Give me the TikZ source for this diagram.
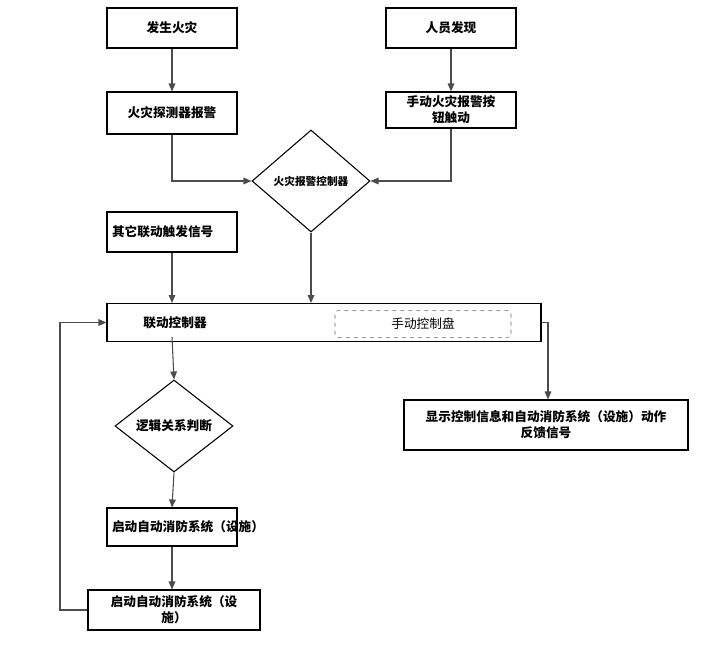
\documentclass[tikz,border=0pt]{standalone}
\usepackage{fontspec}
\setmainfont{Noto Sans CJK SC}
\usetikzlibrary{shapes.geometric,arrows.meta}
\begin{document}
\begin{tikzpicture}[x=0.75pt,y=-0.75pt,
  box/.style={draw,line width=0.8pt,minimum width=97.5pt,align=center,font=\fontsize{9.5}{12}\selectfont\bfseries,inner sep=1pt},
  dia/.style={draw,diamond,line width=0.8pt,aspect=1.2,font=\fontsize{8}{10}\selectfont\bfseries,inner sep=1pt},
  arr/.style={draw=black!70,line width=0.8pt,-{Triangle[length=6pt,width=5pt]}}]
\useasboundingbox (0,0) rectangle (711,651);
\node[box,minimum height=30pt] (a) at (172,28) {发生火灾};
\node[box,minimum height=30pt] (b) at (451,28) {人员发现};
\node[box,minimum height=31.5pt] (c) at (172,113) {火灾探测器报警};
\node[box,minimum height=27pt,text width=90pt] (d) at (451,110) {手动火灾报警按\\钮触动};
\node[dia,minimum width=88.5pt,minimum height=76.5pt] (e) at (311,181) {火灾报警控制器};
\node[box,minimum height=30pt,text width=90pt,align=left] (f) at (172,232) {其它联动触发信号};
\node[draw,line width=0.8pt,minimum width=325.5pt,minimum height=29pt] (g) at (324,322.5) {};
\node[font=\fontsize{9.5}{12}\selectfont\bfseries] (g1) at (175,323) {联动控制器};
\node[draw=black!60,dashed,rounded corners=2pt,minimum width=132pt,minimum height=20pt,font=\fontsize{9.5}{12}\selectfont] (h) at (423,324) {手动控制盘};
\node[dia,minimum width=88.5pt,minimum height=69pt,font=\fontsize{9.5}{12}\selectfont\bfseries] (i) at (174,426) {逻辑关系判断};
\node[box,minimum width=213pt,minimum height=37.5pt,text width=205pt] (j) at (546,425) {显示控制信息和自动消防系统（设施）动作\\反馈信号};
\node[box,minimum height=28.5pt,text width=90pt] (k) at (172,527) {启动自动消防系统（设施）};
\node[box,minimum width=129pt,minimum height=30pt,text width=123pt] (l) at (174,610) {启动自动消防系统（设\\施）};
\draw[arr] (a) -- (c);
\draw[arr] (b) -- (d);
\draw[arr] (c.south) |- (e.west);
\draw[arr] (d.south) |- (e.east);
\draw[arr] (e.south) -- (311,303);
\draw[arr] (f) -- (172,303);
\draw[arr] (g.east) -- (548,322.5) -- (j.north -| 548,0);
\draw[arr] (172,337) -- (i.north);
\draw[arr] (i.south) -- (k.north);
\draw[arr] (k.south) -- (l.north -| k.south);
\draw[arr] (l.west) -- (60,610) -- (60,322.5) -- (g.west);
\end{tikzpicture}
\end{document}
